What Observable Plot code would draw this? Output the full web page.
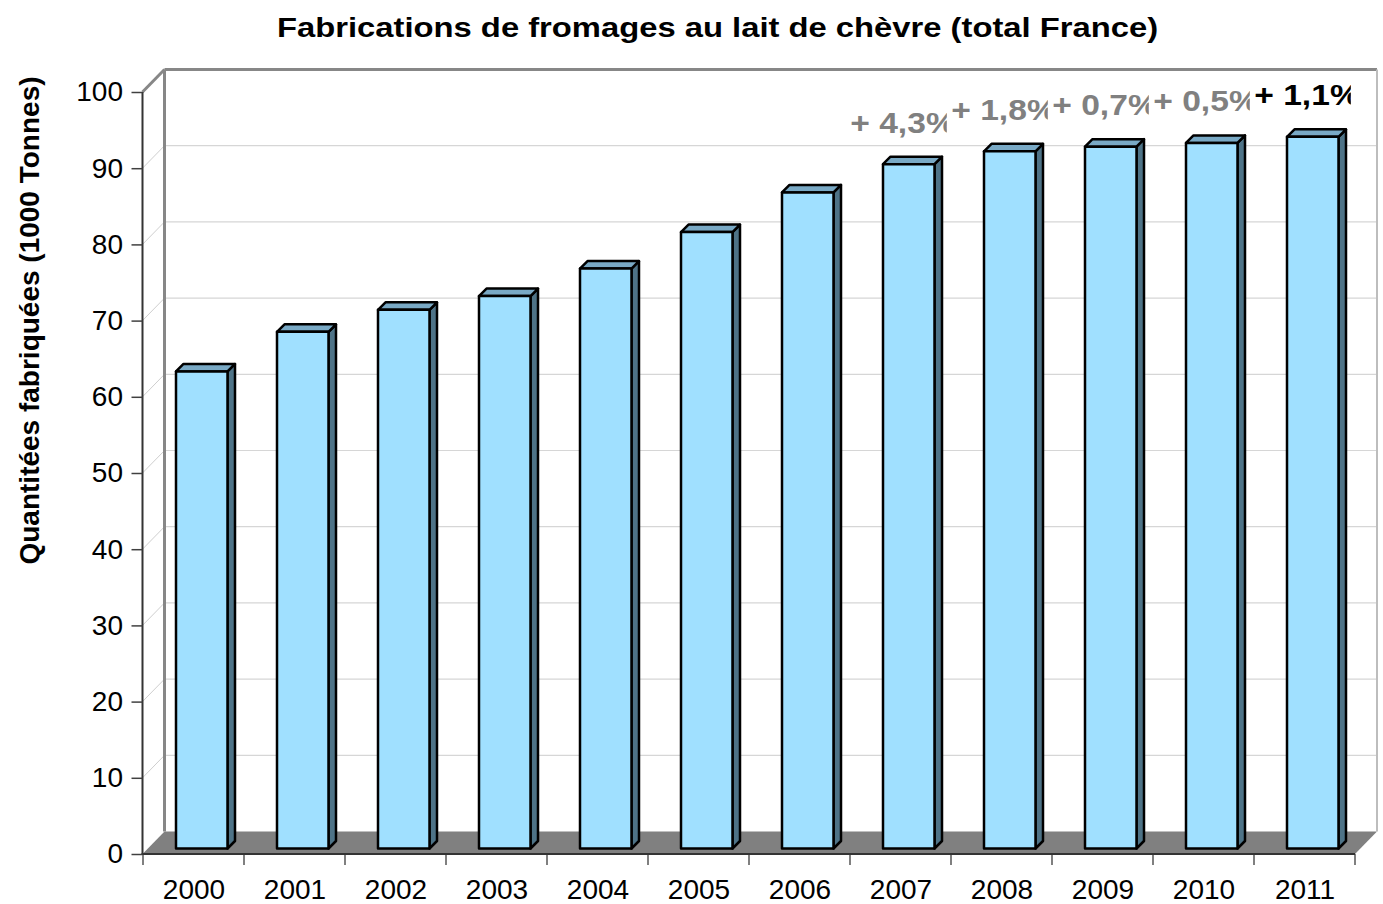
<!DOCTYPE html>
<html><head><meta charset="utf-8">
<script src="https://cdn.jsdelivr.net/npm/d3@7"></script>
<script src="https://cdn.jsdelivr.net/npm/@observablehq/plot@0.6"></script>
<style>
body{margin:0;background:#fff;font-family:"Liberation Sans",Arial,sans-serif;}
#title{height:56px;line-height:56px;text-align:center;font-weight:bold;font-size:28px;white-space:nowrap;padding-left:52px;color:#000;}
#title span{display:inline-block;transform:scaleX(1.17);transform-origin:center;}
</style></head><body>
<div id="title"><span>Fabrications de fromages au lait de chèvre (total France)</span></div>
<div id="chart"></div>
<script>
const years = ["2000","2001","2002","2003","2004","2005","2006","2007","2008","2009","2010","2011"];
const production = [62.6, 67.8, 70.7, 72.5, 76.1, 80.9, 86.1, 89.8, 91.5, 92.1, 92.6, 93.4];
const changeYears = ["2007","2008","2009","2010","2011"];
const changeLabels = ["+ 4,3%","+ 1,8%","+ 0,7%","+ 0,5%","+ 1,1%"];
const yTicks = [0,10,20,30,40,50,60,70,80,90,100];
const yTitle = "Quantitées fabriquées (1000 Tonnes)";

const data = years.map((year, i) => ({year, value: production[i]}));
const changes = changeYears.map((year, i) => ({year, label: changeLabels[i], value: production[years.indexOf(year)]}));

// 3D look
const DX = 22, DY = -22.5;          // floor/wall depth
const BAR_OFF = 33, BAR_W = 51.5, BAR_D = 7.5, BAR_DY = -5.5;
const LABEL_FONT = 'bold 30px "Liberation Sans", Arial, sans-serif';

const svgNS = "http://www.w3.org/2000/svg";
function el(tag, attrs) {
  const e = document.createElementNS(svgNS, tag);
  for (const k in attrs) e.setAttribute(k, attrs[k]);
  return e;
}
function line(g, x1, y1, x2, y2, stroke, w) {
  g.appendChild(el("line", {x1, y1, x2, y2, stroke, "stroke-width": w}));
}
function poly(g, pts, fill) {
  g.appendChild(el("polygon", {points: pts.map(p => p.join(",")).join(" "), fill, stroke: "#000", "stroke-width": 2.5, "stroke-linejoin": "round"}));
}
const measureCtx = document.createElement("canvas").getContext("2d");
let clipCount = 0;
// widen the bold face horizontally and clip the end of the text box (as in the reference)
function stretchText(sx, cut) {
  return (I, scales, values, dims, context, next) => {
    const g = next(I, scales, values, dims, context);
    const defs = el("defs", {});
    g.insertBefore(defs, g.firstChild);
    measureCtx.font = LABEL_FONT;
    g.querySelectorAll("text").forEach(t => {
      let tr = t.getAttribute("transform");
      if (!tr) {
        const x = t.getAttribute("x") || 0, y = t.getAttribute("y") || 0;
        t.removeAttribute("x"); t.removeAttribute("y");
        tr = `translate(${x},${y})`;
      }
      t.setAttribute("transform", tr + ` scale(${sx},1)`);
      const w = measureCtx.measureText(t.textContent).width;
      const id = "lblclip" + (clipCount++);
      const cp = el("clipPath", {id});
      cp.appendChild(el("rect", {x: -w / 2 - 4, y: -40, width: w + 4 - cut, height: 80}));
      defs.appendChild(cp);
      t.setAttribute("clip-path", `url(#${id})`);
    });
    return g;
  };
}

const frameMark = Plot.ruleY(yTicks, {y: d => d, render: (I, scales, values, dims) => {
  const g = el("g", {});
  const L = dims.marginLeft, R = dims.width - dims.marginRight;
  const y0 = scales.y(0), y100 = scales.y(100);
  for (const t of yTicks) {
    if (t === 0 || t === 100) continue;
    const y = scales.y(t);
    line(g, L, y, L + DX, y + DY, "#cfcfcf", 1);
    line(g, L + DX, y + DY, R + DX, y + DY, "#d6d6d6", 1.2);
  }
  g.appendChild(el("polygon", {points: `${L},${y0} ${R},${y0} ${R+DX},${y0+DY} ${L+DX},${y0+DY}`, fill: "#808080"}));
  line(g, L + DX, y0 + DY, L + DX, y100 + DY, "#878787", 3);
  line(g, L + DX, y100 + DY, R + DX, y100 + DY, "#878787", 3);
  line(g, L, y100, L + DX, y100 + DY, "#878787", 3);
  line(g, R + DX, y100 + DY, R + DX, y0 + DY, "#bdbdbd", 2);
  return g;
}});

const barMark = Plot.barY(data, {x: "year", y: "value", render: (I, scales, values) => {
  const g = el("g", {});
  for (const i of I) {
    const x0 = values.x[i] + BAR_OFF, x1 = x0 + BAR_W;
    const yt = values.y2[i] + BAR_DY, yb = values.y1[i] + BAR_DY;
    const d = BAR_D;
    poly(g, [[x1, yt], [x1 + d, yt - d], [x1 + d, yb - d], [x1, yb]], "#4e7387");
    poly(g, [[x0, yt], [x1, yt], [x1 + d, yt - d], [x0 + d, yt - d]], "#79a9c5");
    poly(g, [[x0, yt], [x1, yt], [x1, yb], [x0, yb]], "#a0e0ff");
  }
  return g;
}});

const axisLines = Plot.ruleY([0], {y: d => d, render: (I, scales, values, dims) => {
  const g = el("g", {});
  const L = dims.marginLeft, R = dims.width - dims.marginRight;
  const y0 = scales.y(0), y100 = scales.y(100);
  for (const yr of years) line(g, scales.x(yr), y0, scales.x(yr), y0 + 11, "#808080", 2);
  line(g, R, y0, R, y0 + 11, "#808080", 2);
  line(g, L, y100, L, y0, "#333", 2);
  line(g, L - 1, y0, R, y0, "#333", 2);
  return g;
}});

const chart = Plot.plot({
  width: 1383,
  height: 848,
  marginLeft: 142.5,
  marginRight: 28,
  marginTop: 36,
  marginBottom: 50,
  style: {fontFamily: '"Liberation Sans", Arial, sans-serif', fontSize: "28px", background: "white", color: "black", overflow: "visible"},
  x: {type: "band", domain: years, paddingInner: 0, paddingOuter: 0, label: null},
  y: {domain: [0, 100], label: null},
  marks: [
    frameMark,
    barMark,
    axisLines,
    Plot.axisY({ticks: yTicks, tickSize: 11, tickPadding: 9, fontSize: 28, stroke: "#404040", strokeWidth: 1.5, label: null}),
    Plot.axisX({tickSize: 0, tickPadding: 25, fontSize: 28, label: null}),
    Plot.text(changes.filter(d => d.year !== "2011"), {x: "year", y: "value", text: "label", dx: 2, dy: -47, fontSize: 30, fontWeight: "bold", fill: "#808080", render: stretchText(1.12, 8)}),
    Plot.text(changes.filter(d => d.year === "2011"), {x: "year", y: "value", text: "label", dx: 2, dy: -47, fontSize: 30, fontWeight: "bold", fill: "#000", render: stretchText(1.12, 8)}),
    Plot.text([yTitle], {text: d => d, frameAnchor: "top-left", textAnchor: "middle", lineAnchor: "middle", dx: -112.5, dy: 228, rotate: -90, fontSize: 28, fontWeight: "bold", fill: "#000"})
  ]
});
document.getElementById("chart").appendChild(chart);
</script>
</body></html>
